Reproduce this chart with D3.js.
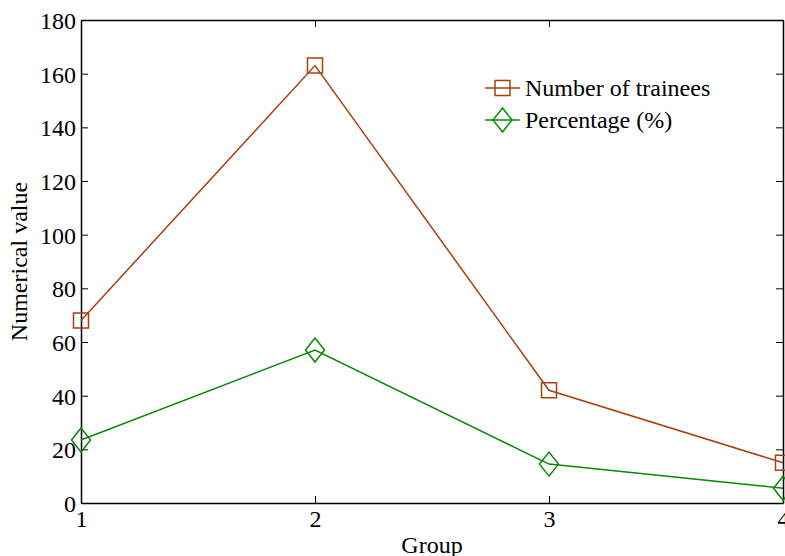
<!DOCTYPE html>
<html>
<head>
<meta charset="utf-8">
<script src="https://cdn.jsdelivr.net/npm/d3@7"></script>
<style>
  body { margin: 0; background: #fff; }
  svg { font-family: "Liberation Serif", "Times New Roman", serif; }
</style>
</head>
<body>
<div id="chart"></div>
<script>
// chart values
const groups = [1, 2, 3, 4];
const trainees = [68, 163, 42, 15];
const percentage = [23.5, 57, 14.5, 5.5];
const yTicks = [0, 20, 40, 60, 80, 100, 120, 140, 160, 180];
const seriesNames = ['Number of trainees', 'Percentage (%)'];

const width = 785, height = 556;
const margin = { top: 20, right: 2, bottom: 53, left: 81 };
const orange = '#a8400e';
const green = '#078a07';

const svg = d3.select('#chart')
  .append('svg')
  .attr('width', width)
  .attr('height', height);

const x = d3.scaleLinear()
  .domain([1, 4])
  .range([margin.left, width - margin.right]);
const y = d3.scaleLinear()
  .domain([0, 180])
  .range([height - margin.bottom, margin.top]);

// axes box with inward ticks
const tickLen = 7;
const axisFont = 24;

const leftAxis = svg.append('g')
  .attr('class', 'y-axis')
  .attr('transform', `translate(${margin.left},0)`)
  .call(d3.axisLeft(y).tickValues(yTicks).tickSizeInner(-tickLen).tickSizeOuter(0).tickPadding(5));
const rightAxis = svg.append('g')
  .attr('transform', `translate(${width - margin.right},0)`)
  .call(d3.axisRight(y).tickValues(yTicks).tickSizeInner(-tickLen).tickSizeOuter(0).tickFormat(''));
const bottomAxis = svg.append('g')
  .attr('class', 'x-axis')
  .attr('transform', `translate(0,${height - margin.bottom})`)
  .call(d3.axisBottom(x).tickValues(groups).tickSizeInner(-tickLen).tickSizeOuter(0).tickFormat(d3.format('d')));
const topAxis = svg.append('g')
  .attr('transform', `translate(0,${margin.top})`)
  .call(d3.axisTop(x).tickValues(groups).tickSizeInner(-tickLen).tickSizeOuter(0).tickFormat(''));

[leftAxis, rightAxis, bottomAxis, topAxis].forEach(g => {
  g.select('.domain').attr('stroke', '#000').attr('stroke-width', 1.5);
  g.selectAll('line').attr('stroke', '#000').attr('stroke-width', 1);
  g.selectAll('text')
    .attr('font-size', axisFont)
    .attr('fill', '#000')
    .style('font-family', '"Liberation Serif", "Times New Roman", serif');
});
leftAxis.selectAll('text').attr('dy', '0.35em');
bottomAxis.selectAll('text').attr('y', 24).attr('dy', 0);

// axis labels
svg.append('text')
  .attr('x', (margin.left + width - margin.right) / 2)
  .attr('y', 553)
  .attr('text-anchor', 'middle')
  .attr('font-size', axisFont)
  .text('Group');
svg.append('text')
  .attr('transform', `translate(27,${(margin.top + height - margin.bottom) / 2}) rotate(-90)`)
  .attr('text-anchor', 'middle')
  .attr('font-size', axisFont)
  .text('Numerical value');

// series
const line = d3.line()
  .x((d, i) => x(groups[i]))
  .y(d => y(d));

const sq = d3.symbol().type(d3.symbolSquare).size(15 * 15);
const dia = () => 'M0,-12L9.5,0L0,12L-9.5,0Z';

function drawSeries(values, color, symbol) {
  const g = svg.append('g');
  g.append('path')
    .datum(values)
    .attr('fill', 'none')
    .attr('stroke', color)
    .attr('stroke-width', 1.5)
    .attr('d', line);
  g.selectAll('path.marker')
    .data(values)
    .join('path')
    .attr('class', 'marker')
    .attr('transform', (d, i) => `translate(${x(groups[i])},${y(d)})`)
    .attr('d', symbol)
    .attr('fill', 'none')
    .attr('stroke', color)
    .attr('stroke-width', 1.5);
}
drawSeries(trainees, orange, sq);
drawSeries(percentage, green, dia);

// legend
const legend = svg.append('g').attr('class', 'legend');
const legendItems = [
  { name: seriesNames[0], color: orange, symbol: sq },
  { name: seriesNames[1], color: green, symbol: dia }
];
legendItems.forEach((item, i) => {
  const ly = 88 + i * 32;
  legend.append('line')
    .attr('x1', 485).attr('x2', 520)
    .attr('y1', ly).attr('y2', ly)
    .attr('stroke', item.color)
    .attr('stroke-width', 1.5);
  legend.append('path')
    .attr('transform', `translate(502.5,${ly})`)
    .attr('d', item.symbol)
    .attr('fill', 'none')
    .attr('stroke', item.color)
    .attr('stroke-width', 1.5);
  legend.append('text')
    .attr('x', 525)
    .attr('y', ly)
    .attr('dy', '0.35em')
    .attr('font-size', axisFont)
    .text(item.name);
});
</script>
</body>
</html>
